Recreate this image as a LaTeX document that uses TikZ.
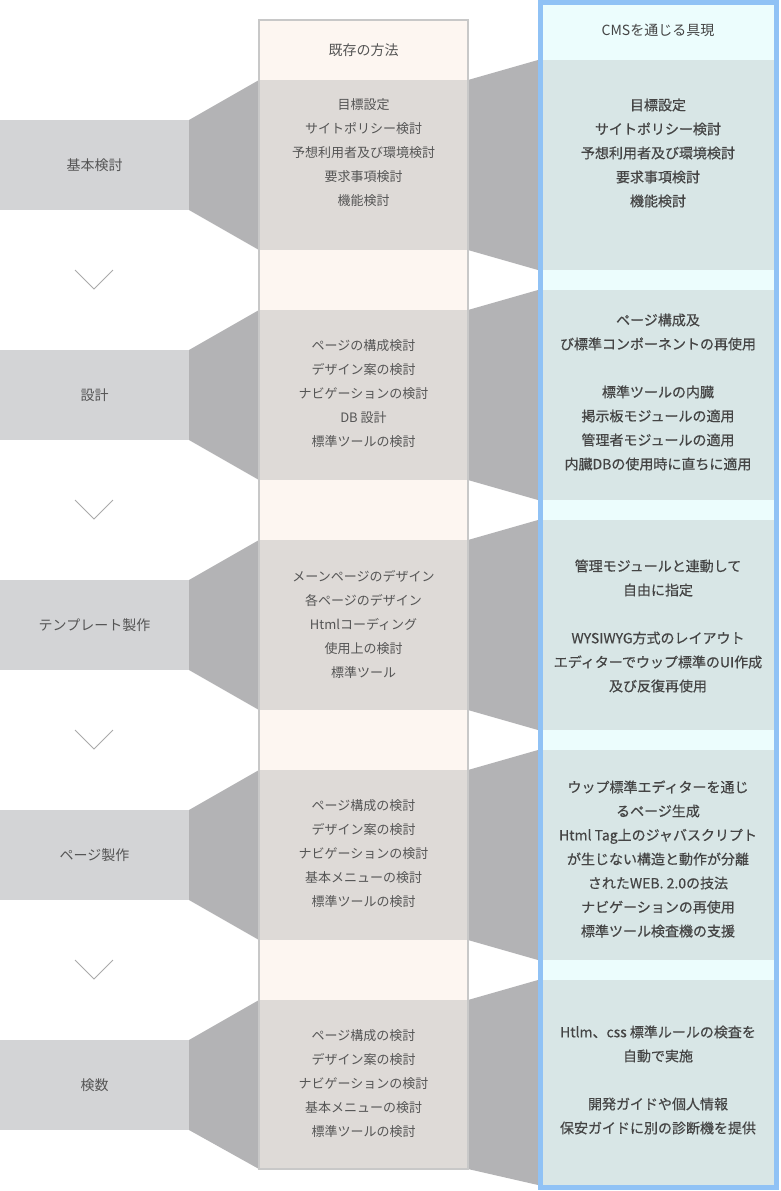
\documentclass[tikz,border=0pt]{standalone}
\usepackage{fontspec}
\setmainfont{Noto Sans CJK JP}
\newfontfamily\cjkm[FakeBold=0.4]{Noto Sans CJK JP}
\definecolor{leftbox}{HTML}{D3D4D6}
\definecolor{trap}{HTML}{B3B3B5}
\definecolor{midbg}{HTML}{FDF6F1}
\definecolor{midborder}{HTML}{C8C8C8}
\definecolor{midstep}{HTML}{DEDAD7}
\definecolor{rborder}{HTML}{90C2F5}
\definecolor{rbg}{HTML}{ECFDFD}
\definecolor{rstep}{HTML}{D8E6E6}
\definecolor{txt}{HTML}{555555}
\definecolor{rtxt}{HTML}{444444}
\definecolor{chev}{HTML}{AAAAAA}
\begin{document}
\begin{tikzpicture}[x=1pt,y=-1pt,
  lbl/.style={font=\fontsize{14}{24}\selectfont, text=txt, inner sep=0pt},
  midtxt/.style={font=\fontsize{13}{24}\selectfont, text=txt, align=center, inner sep=0pt},
  rtxt/.style={font=\cjkm\fontsize{14}{24}\selectfont, text=rtxt, align=center, inner sep=0pt},
  chevline/.style={draw=chev, line width=0.8pt}]
\useasboundingbox (0,0) rectangle (780,1191);
\fill[white] (0,0) rectangle (780,1191);

% middle column background
\fill[midbg] (259,20) rectangle (468,1169);
% right column background
\fill[rbg] (538,0) rectangle (779,1190);

% steps: left y range, mid y range, right y range
\foreach \i/\la/\lb/\ma/\mb/\ra/\rb in {1/120/210/80/250/60/270, 2/350/440/310/480/290/500, 3/580/670/540/710/520/730, 4/810/900/770/940/750/960, 5/1040/1130/1000/1169/980/1185}{
  \fill[leftbox] (0,\la) rectangle (189,\lb);
  \fill[trap] (189,\la) -- (259,\ma) -- (259,\mb) -- (189,\lb) -- cycle;
  \fill[midstep] (259,\ma) rectangle (468,\mb);
  \fill[trap] (468,\ma) -- (538,\ra) -- (538,\rb) -- (468,\mb) -- cycle;
  \fill[rstep] (538,\ra) rectangle (779,\rb);
}

% borders
\draw[midborder, line width=2pt] (259,20) rectangle (468,1169);
\draw[rborder, line width=5pt] (540.5,2.5) rectangle (776.5,1187.5);

% headers
\node[lbl] (hmid) at (363.5,50) {既存の方法};
\node[lbl, text=rtxt] (hright) at (658,30) {CMSを通じる具現};

% left labels
\node[lbl] (l1) at (94.5,165) {基本検討};
\node[lbl] (l2) at (94.5,395) {設計};
\node[lbl] (l3) at (94.5,625) {テンプレート製作};
\node[lbl] (l4) at (94.5,855) {ページ製作};
\node[lbl] (l5) at (94.5,1085) {検数};

% chevrons
\foreach \y [count=\k] in {270,500,730,960}{
  \coordinate (ca\k) at (75,\y);
  \coordinate (cb\k) at (94,\y+19);
  \coordinate (cc\k) at (113,\y);
  \draw[chevline] (ca\k) -- (cb\k) -- (cc\k);
}

% middle texts
\node[midtxt] (m1) at (363.5,153) {目標設定\\サイトポリシー検討\\予想利用者及び環境検討\\要求事項検討\\機能検討};
\node[midtxt] (m2) at (363.5,394) {ページの構成検討\\デザイン案の検討\\ナビゲーションの検討\\DB 設計\\標準ツールの検討};
\node[midtxt] (m3) at (363.5,624) {メーンページのデザイン\\各ページのデザイン\\Htmlコーディング\\使用上の検討\\標準ツール};
\node[midtxt] (m4) at (363.5,854) {ページ構成の検討\\デザイン案の検討\\ナビゲーションの検討\\基本メニューの検討\\標準ツールの検討};
\node[midtxt] (m5) at (363.5,1084) {ページ構成の検討\\デザイン案の検討\\ナビゲーションの検討\\基本メニューの検討\\標準ツールの検討};

% right texts
\node[rtxt] (r1) at (658,153) {目標設定\\サイトポリシー検討\\予想利用者及び環境検討\\要求事項検討\\機能検討};
\node[rtxt] (r2) at (658,392) {ページ構成及\\び標準コンポーネントの再使用\\[24pt]標準ツールの内臓\\掲示板モジュールの適用\\管理者モジュールの適用\\内臓DBの使用時に直ちに適用};
\node[rtxt] (r3) at (658,626) {管理モジュールと連動して\\自由に指定\\[24pt]WYSIWYG方式のレイアウト\\エディターでウップ標準のUI作成\\及び反復再使用};
\node[rtxt] (r4) at (658,859) {ウップ標準エディターを通じ\\るページ生成\\Html Tag上のジャバスクリプト\\が生じない構造と動作が分離\\されたWEB. 2.0の技法\\ナビゲーションの再使用\\標準ツール検査機の支援};
\node[rtxt] (r5) at (658,1080) {Htlm、css 標準ルールの検査を\\自動で実施\\[24pt]開発ガイドや個人情報\\保安ガイドに別の診断機を提供};
\end{tikzpicture}
\end{document}
